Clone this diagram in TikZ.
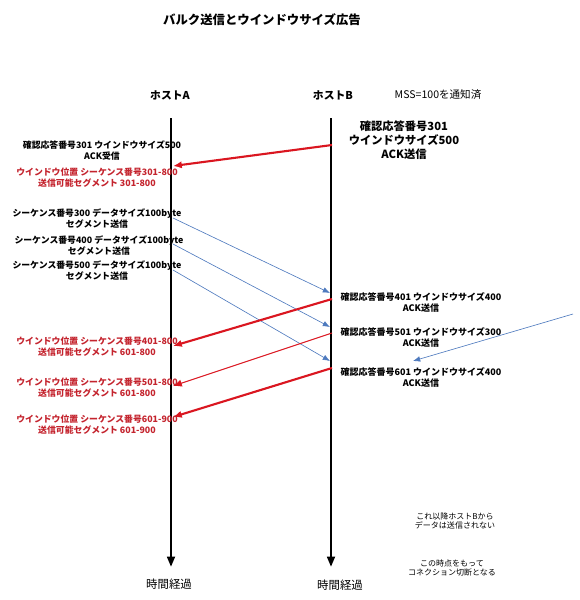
\documentclass[tikz,border=0pt]{standalone}
\usepackage{fontspec}
\setmainfont{Noto Sans CJK JP}
\usetikzlibrary{arrows.meta}
\definecolor{ackred}{RGB}{218,22,32}
\definecolor{winred}{RGB}{196,36,46}
\definecolor{segblue}{RGB}{78,122,190}

\begin{document}
\begin{tikzpicture}[
  x=0.025cm, y=-0.025cm,
  hostaxis/.style={draw, line width=1.9pt, -{Triangle[length=2.6mm,width=1.9mm]}},
  ackline/.style={draw, ackred, line width=1.5pt, -{Latex[length=2.2mm,width=1.8mm]}},
  ackthin/.style={ackline, line width=0.7pt},
  segline/.style={draw, segblue, line width=0.45pt, -{Latex[length=1.8mm,width=1.4mm]}},
  hostlbl/.style={font=\fontsize{7.7}{9}\selectfont\bfseries},
  note/.style={align=center, inner sep=0pt, font=\fontsize{6.3}{7.8}\selectfont\bfseries},
  winnote/.style={note, text=winred},
  acknote/.style={note, font=\fontsize{6.4}{7.8}\selectfont\bfseries},
  smallnote/.style={align=center, inner sep=0pt, font=\fontsize{5.7}{7}\selectfont}
]
  \useasboundingbox (0,0) rectangle (580,600);

  % title and hosts
  \node[font=\fontsize{8.8}{10}\selectfont\bfseries] (title) at (262,20) {バルク送信とウインドウサイズ広告};
  \node[hostlbl] (hostA) at (170,95) {ホストA};
  \node[hostlbl] (hostB) at (333,95) {ホストB};
  \node[font=\fontsize{7.5}{9}\selectfont] (mss) at (438,95) {MSS=100を通知済};

  \coordinate (Atop) at (171,118);
  \coordinate (Abot) at (171,567);
  \coordinate (Btop) at (331,118);
  \coordinate (Bbot) at (331,567);
  \draw[hostaxis] (Atop) -- (Abot);
  \draw[hostaxis] (Btop) -- (Bbot);
  \node[font=\fontsize{8.1}{10}\selectfont] (timeA) at (169,584) {時間経過};
  \node[font=\fontsize{8.1}{10}\selectfont] (timeB) at (340,585) {時間経過};

  % first ack from B
  \node[note, font=\fontsize{8}{10}\selectfont\bfseries] (ack301) at (404,140)
    {確認応答番号301\\ウインドウサイズ500\\ACK送信};
  \coordinate (ackB0) at (332,145);
  \coordinate (ackA0) at (173,166);
  \draw[ackline] (ackB0) -- (ackA0);
  \node[note] (recv301) at (102,151) {確認応答番号301 ウインドウサイズ500\\ACK受信};
  \node[winnote] (win301) at (97,178) {ウインドウ位置 シーケンス番号301-800\\送信可能セグメント 301-800};

  % segments from A
  \foreach \s/\ya/\yb in {300/218/293, 400/244/327, 500/270/361}{
    \coordinate (segS\s) at (173,\ya);
    \coordinate (segE\s) at (330,\yb);
    \draw[segline] (segS\s) -- (segE\s);
  }
  \node[note] (seg300) at (97,219) {シーケンス番号300 データサイズ100byte\\セグメント送信};
  \node[note] (seg400) at (99,246) {シーケンス番号400 データサイズ100byte\\セグメント送信};
  \node[note] (seg500) at (97,271) {シーケンス番号500 データサイズ100byte\\セグメント送信};

  % acks from B
  \coordinate (ackB1) at (332,299);
  \coordinate (ackA1) at (173,346);
  \coordinate (ackB2) at (332,333);
  \coordinate (ackA2) at (173,386);
  \coordinate (ackB3) at (332,368);
  \coordinate (ackA3) at (173,417);
  \draw[ackline] (ackB1) -- (ackA1);
  \draw[ackthin] (ackB2) -- (ackA2);
  \draw[ackline] (ackB3) -- (ackA3);
  \node[acknote] (ack401) at (421,302) {確認応答番号401 ウインドウサイズ400\\ACK送信};
  \node[acknote] (ack501) at (421,337) {確認応答番号501 ウインドウサイズ300\\ACK送信};
  \node[acknote] (ack601) at (421,377) {確認応答番号601 ウインドウサイズ400\\ACK送信};

  \node[winnote] (win401) at (97,347) {ウインドウ位置 シーケンス番号401-800\\送信可能セグメント 601-800};
  \node[winnote] (win501) at (97,388) {ウインドウ位置 シーケンス番号501-800\\送信可能セグメント 601-800};
  \node[winnote] (win601) at (97,425) {ウインドウ位置 シーケンス番号601-900\\送信可能セグメント 601-900};

  % stray segment from the right
  \coordinate (strayS) at (573,314);
  \coordinate (strayE) at (413,361);
  \draw[segline] (strayS) -- (strayE);

  \node[smallnote] (noMore) at (455,521) {これ以降ホストBから\\データは送信されない};
  \node[smallnote] (closeNote) at (452,568) {この時点をもって\\コネクション切断となる};
\end{tikzpicture}
\end{document}
